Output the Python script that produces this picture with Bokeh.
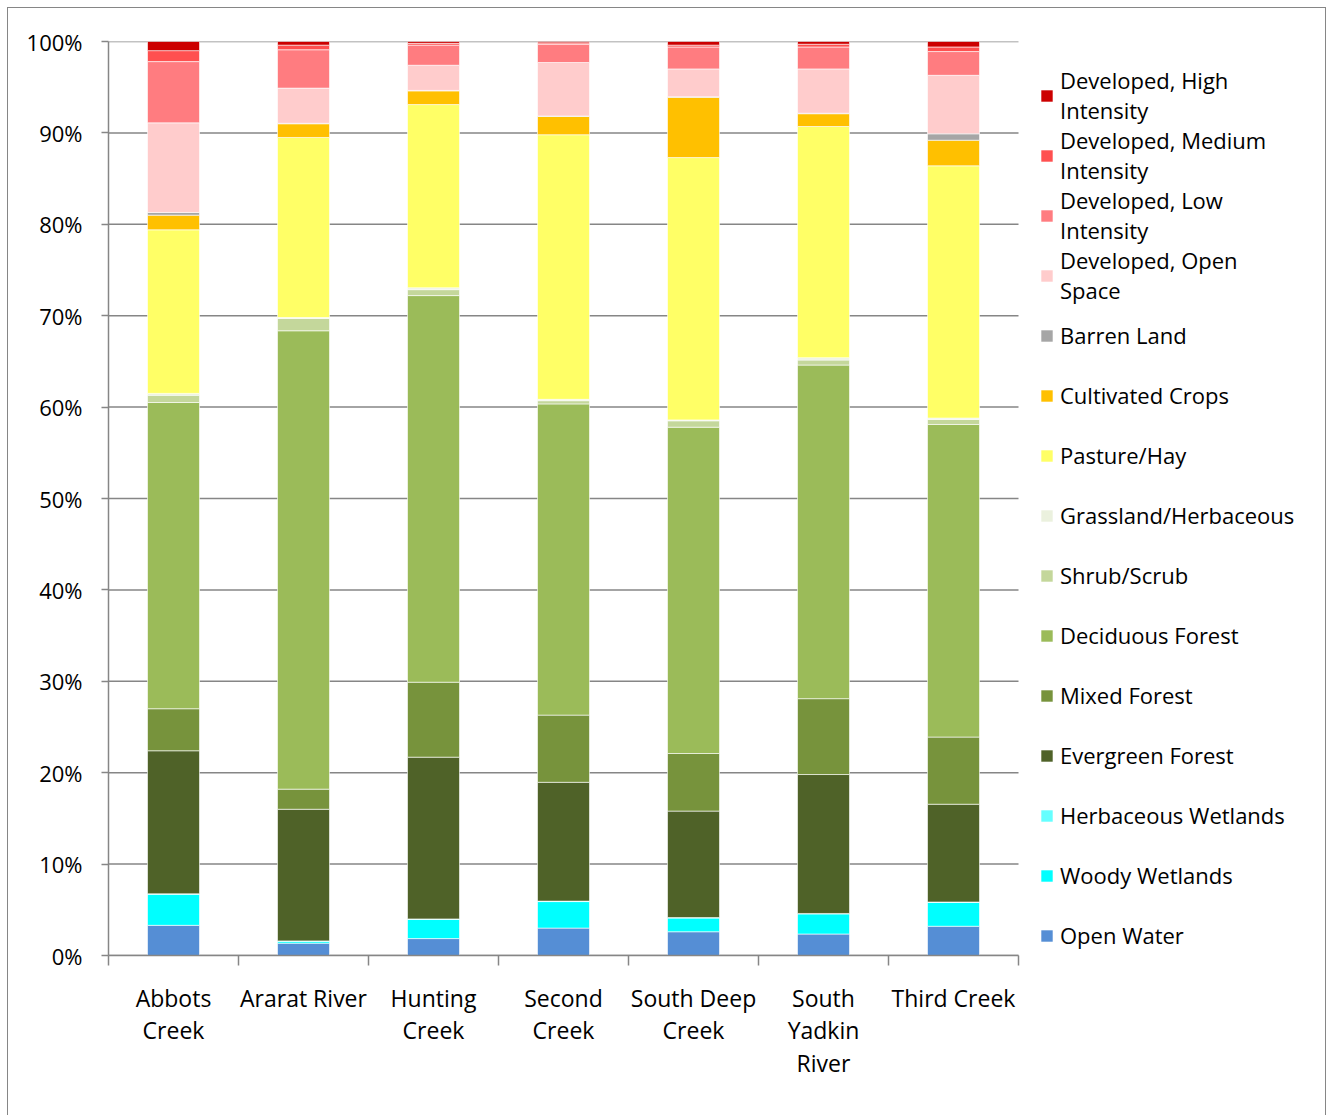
from bokeh.plotting import figure
from bokeh.models import Legend, LegendItem, FixedTicker, Range1d, PrintfTickFormatter, ColumnDataSource
from bokeh.embed import file_html
from bokeh.resources import INLINE

# ---- data (percent of watershed area) ----
watersheds = ["Abbots Creek", "Ararat River", "Hunting Creek", "Second Creek",
              "South Deep Creek", "South Yadkin River", "Third Creek"]
tick_labels = ["Abbots\nCreek", "Ararat River", "Hunting\nCreek", "Second\nCreek",
               "South Deep\nCreek", "South\nYadkin\nRiver", "Third Creek"]

# stacking order: bottom to top
land_cover = ["Open Water", "Woody Wetlands", "Herbaceous Wetlands", "Evergreen Forest",
              "Mixed Forest", "Deciduous Forest", "Shrub/Scrub", "Grassland/Herbaceous",
              "Pasture/Hay", "Cultivated Crops", "Barren Land", "Developed, Open Space",
              "Developed, Low Intensity", "Developed, Medium Intensity", "Developed, High Intensity"]
legend_labels = ["Open Water", "Woody Wetlands", "Herbaceous Wetlands", "Evergreen Forest",
                 "Mixed Forest", "Deciduous Forest", "Shrub/Scrub", "Grassland/Herbaceous",
                 "Pasture/Hay", "Cultivated Crops", "Barren Land", "Developed, Open\nSpace",
                 "Developed, Low\nIntensity", "Developed, Medium\nIntensity", "Developed, High\nIntensity"]
colors = ["#558ED5", "#00FFFF", "#66FFFF", "#4F6228", "#77933C", "#9BBB59", "#C4D79B",
          "#EBF1DE", "#FFFF66", "#FFC000", "#A6A6A6", "#FFCCCC", "#FF7C80", "#FF5050", "#CC0000"]

open_water         = [3.30, 1.35, 1.85, 3.00, 2.60, 2.35, 3.20]
woody_wetlands     = [3.40, 0.20, 2.10, 2.90, 1.50, 2.20, 2.60]
herbaceous_wetland = [0.05, 0.05, 0.05, 0.05, 0.05, 0.05, 0.05]
evergreen_forest   = [15.65, 14.40, 17.70, 13.00, 11.65, 15.20, 10.70]
mixed_forest       = [4.60, 2.20, 8.20, 7.35, 6.30, 8.30, 7.35]
deciduous_forest   = [33.50, 50.15, 42.30, 34.05, 35.70, 36.50, 34.20]
shrub_scrub        = [0.80, 1.35, 0.65, 0.35, 0.70, 0.55, 0.55]
grassland          = [0.20, 0.10, 0.20, 0.15, 0.10, 0.25, 0.15]
pasture_hay        = [17.90, 19.70, 20.05, 28.95, 28.70, 25.30, 27.60]
cultivated_crops   = [1.60, 1.50, 1.50, 2.00, 6.60, 1.40, 2.80]
barren_land        = [0.30, 0.05, 0.05, 0.05, 0.05, 0.05, 0.70]
developed_open     = [9.80, 3.85, 2.75, 5.85, 3.05, 4.85, 6.40]
developed_low      = [6.70, 4.20, 2.20, 2.00, 2.40, 2.40, 2.60]
developed_medium   = [1.20, 0.50, 0.20, 0.15, 0.20, 0.30, 0.50]
developed_high     = [1.00, 0.40, 0.20, 0.15, 0.40, 0.30, 0.60]

series = [open_water, woody_wetlands, herbaceous_wetland, evergreen_forest, mixed_forest,
          deciduous_forest, shrub_scrub, grassland, pasture_hay, cultivated_crops,
          barren_land, developed_open, developed_low, developed_medium, developed_high]
y_ticks = [0, 10, 20, 30, 40, 50, 60, 70, 80, 90, 100]

# ---- layout constants (pixels) ----
W, H = 1319, 1108
LEFT, TOP, BOTTOM = 100, 33, 161
BAR_AREA = 910          # pixel width of the category area
n = len(watersheds)
x_end = n * (W - LEFT) / BAR_AREA   # frame extends under the legend

# ---- build ----
x_pos = [i + 0.5 for i in range(n)]
data = {"x": x_pos, "name": watersheds}
for key, vals in zip(land_cover, series):
    data[key] = vals
source = ColumnDataSource(data)

GRAY = "#868686"
FONT = "Open Sans"

p = figure(width=W, height=H, output_backend="svg", toolbar_location=None,
           x_range=Range1d(0, x_end), y_range=Range1d(0, 100),
           min_border_left=LEFT, min_border_top=TOP, min_border_right=0, min_border_bottom=BOTTOM)
p.styles = {"margin-left": "7px", "margin-top": "7px",
            "border-left": "1px solid #868686", "border-top": "1px solid #868686",
            "border-right": "1px solid #868686"}
p.outline_line_color = None
p.background_fill_color = "white"
p.border_fill_color = "white"
p.xgrid.grid_line_color = None
p.ygrid.grid_line_color = None

# horizontal gridlines limited to the category area
p.segment(x0=[0] * len(y_ticks), x1=[n] * len(y_ticks), y0=y_ticks, y1=y_ticks,
          line_color=GRAY, line_width=1.5, level="underlay")

renderers = p.vbar_stack(land_cover, x="x", width=0.4, source=source,
                         fill_color=colors, line_color="white", line_alpha=0.6, line_width=1)

# y axis
p.yaxis.ticker = FixedTicker(ticks=y_ticks)
p.yaxis.formatter = PrintfTickFormatter(format="%d%%")
p.yaxis.axis_line_color = GRAY
p.yaxis.axis_line_width = 1.5
p.yaxis.major_tick_line_color = GRAY
p.yaxis.major_tick_line_width = 1.5
p.yaxis.major_tick_in = 0
p.yaxis.major_tick_out = 7
p.yaxis.minor_tick_line_color = None
p.yaxis.major_label_text_font = FONT
p.yaxis.major_label_text_font_size = "22px"
p.yaxis.major_label_text_color = "black"
p.yaxis.major_label_standoff = 19

# x axis: labels at category centres, tick marks between categories
p.xaxis.ticker = FixedTicker(ticks=x_pos, minor_ticks=list(range(n + 1)))
p.xaxis.bounds = (0, n)
p.xaxis.major_label_overrides = {x: lab for x, lab in zip(x_pos, tick_labels)}
p.xaxis.axis_line_color = GRAY
p.xaxis.axis_line_width = 1.5
p.xaxis.major_tick_line_color = None
p.xaxis.major_tick_in = 0
p.xaxis.major_tick_out = 10
p.xaxis.minor_tick_line_color = GRAY
p.xaxis.minor_tick_line_width = 1.5
p.xaxis.minor_tick_in = 0
p.xaxis.minor_tick_out = 10
p.xaxis.major_label_text_font = FONT
p.xaxis.major_label_text_font_size = "23px"
p.xaxis.major_label_text_color = "black"
p.xaxis.major_label_text_line_height = 1.02
p.xaxis.major_label_standoff = 16

# legend (top-down = reverse of stack), right of the bars
items = [LegendItem(label=lab, renderers=[r]) for lab, r in zip(legend_labels, renderers)][::-1]
legend = Legend(items=items, location=(BAR_AREA + 21, -10), padding=0, margin=0,
                border_line_color=None, background_fill_alpha=0,
                glyph_width=15, glyph_height=15, label_standoff=6,
                label_height=60, label_width=0, spacing=0,
                label_text_font=FONT, label_text_font_size="22px",
                label_text_line_height=1.57, label_text_color="black")
p.add_layout(legend)

open("out.html", "w").write(file_html(p, INLINE))
